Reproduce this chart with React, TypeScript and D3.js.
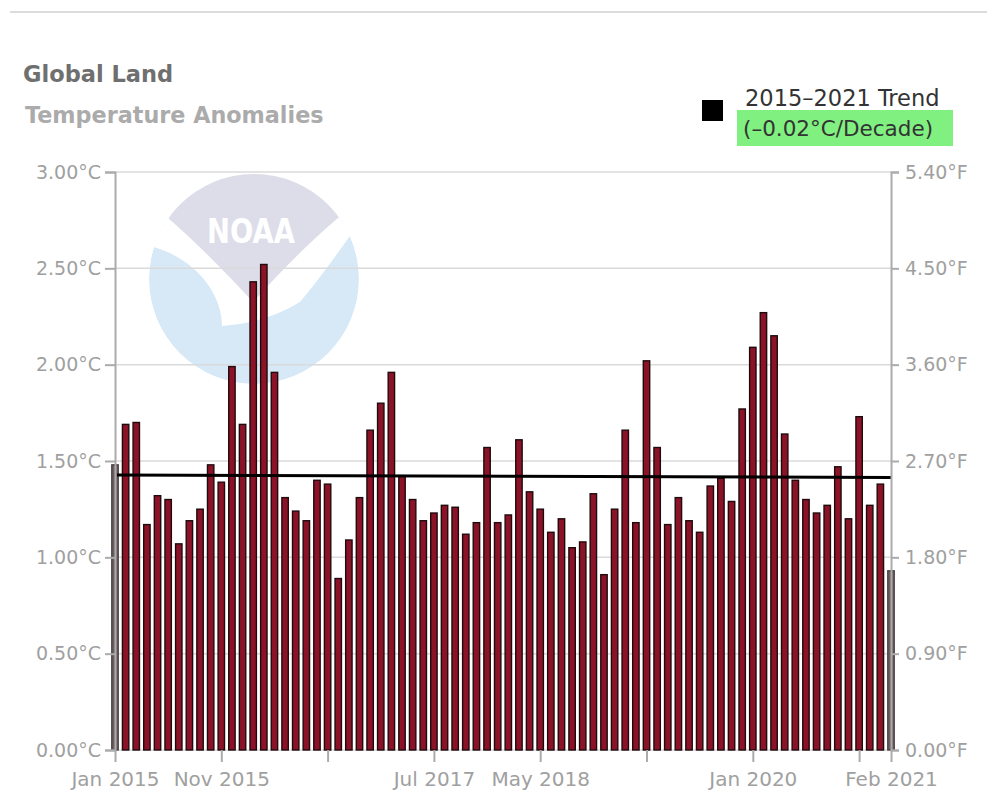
import React, { useEffect, useRef } from "react";
import * as d3 from "d3";

// monthly land anomalies, Jan 2015 .. Feb 2021 (°C)
const anomalies = [
  1.48, 1.69, 1.7, 1.17, 1.32, 1.3, 1.07, 1.19, 1.25, 1.48, 1.39, 1.99,
  1.69, 2.43, 2.52, 1.96, 1.31, 1.24, 1.19, 1.4, 1.38, 0.89, 1.09, 1.31,
  1.66, 1.8, 1.96, 1.42, 1.3, 1.19, 1.23, 1.27, 1.26, 1.12, 1.18, 1.57,
  1.18, 1.22, 1.61, 1.34, 1.25, 1.13, 1.2, 1.05, 1.08, 1.33, 0.91, 1.25,
  1.66, 1.18, 2.02, 1.57, 1.17, 1.31, 1.19, 1.13, 1.37, 1.41, 1.29, 1.77,
  2.09, 2.27, 2.15, 1.64, 1.4, 1.3, 1.23, 1.27, 1.47, 1.2, 1.73, 1.27,
  1.38, 0.93,
];

const months = d3.timeMonth.range(new Date(2015, 0, 1), new Date(2021, 2, 1));
const tickIndex = [0, 10, 20, 30, 40, 50, 60, 70, 73];
const tickLabels = ["Jan 2015", "Nov 2015", "", "Jul 2017", "May 2018", "", "Jan 2020", "", "Feb 2021"];
const celsiusTicks = [0, 0.5, 1, 1.5, 2, 2.5, 3];

const trendStart = 1.427;
const trendEnd = 1.415;

const font = "'DejaVu Sans', sans-serif";

const App = () => {
  const ref = useRef<SVGSVGElement>(null);

  useEffect(() => {
    const svg = d3.select(ref.current);
    svg.selectAll("*").remove();

    const x = d3.scaleLinear().domain([0, months.length - 1]).range([115, 891]);
    const y = d3.scaleLinear().domain([0, 3]).range([750, 172]);

    // top border
    svg.append("line")
      .attr("x1", 10).attr("x2", 987).attr("y1", 12).attr("y2", 12)
      .attr("stroke", "#dcdcdc").attr("stroke-width", 2);

    // titles
    svg.append("text")
      .attr("x", 23).attr("y", 82)
      .attr("font-family", font).attr("font-size", 22.5).attr("font-weight", "bold")
      .attr("fill", "#6f6f6f")
      .text("Global Land");
    svg.append("text")
      .attr("x", 25).attr("y", 123)
      .attr("font-family", font).attr("font-size", 22.3).attr("font-weight", "bold")
      .attr("fill", "#ababab")
      .text("Temperature Anomalies");

    // NOAA watermark
    const logo = svg.append("g");
    const cx = 254, cy = 279, r = 105;
    svg.append("defs").append("clipPath").attr("id", "logoclip")
      .append("circle").attr("cx", cx).attr("cy", cy).attr("r", r);
    const lg = logo.append("g").attr("clip-path", "url(#logoclip)");
    lg.append("circle").attr("cx", cx).attr("cy", cy).attr("r", r).attr("fill", "#d7e9f7");
    // gull (white)
    lg.append("path")
      .attr("d", "M140,170 L140,244 C190,252 222,290 222,326 Q266,323 300,302 Q322,276 354,230 L360,170 Z")
      .attr("fill", "#ffffff");
    // sky (grey)
    lg.append("path")
      .attr("d", "M140,170 L140,212 L168,218 Q205,250 253,302 Q300,250 338,218 L360,212 L360,170 Z")
      .attr("fill", "#dcdde9");
    logo.append("text")
      .attr("x", 251).attr("y", 243)
      .attr("text-anchor", "middle")
      .attr("font-family", font).attr("font-size", 33).attr("font-weight", "bold")
      .attr("textLength", 88).attr("lengthAdjust", "spacingAndGlyphs")
      .attr("fill", "#ffffff")
      .text("NOAA");

    // gridlines
    svg.append("g").selectAll("line").data(celsiusTicks).join("line")
      .attr("x1", x(0)).attr("x2", x(months.length - 1))
      .attr("y1", (d) => y(d)).attr("y2", (d) => y(d))
      .attr("stroke", "#dadada").attr("stroke-width", 1.5);

    // bars
    const last = anomalies.length - 1;
    const edge = (i: number) => i === 0 || i === last;
    svg.append("g").selectAll("rect").data(anomalies).join("rect")
      .attr("x", (d, i) => x(i) - 3.2)
      .attr("width", 6.4)
      .attr("y", (d) => y(d))
      .attr("height", (d) => y(0) - y(d))
      .attr("fill", (d, i) => (edge(i) ? "#6d6062" : "#8c1327"))
      .attr("stroke", (d, i) => (edge(i) ? "#4a4243" : "#1f0b0e"))
      .attr("stroke-width", 1.4);

    // trend line
    svg.append("line")
      .attr("x1", x(0) + 2).attr("x2", x(last))
      .attr("y1", y(trendStart)).attr("y2", y(trendEnd))
      .attr("stroke", "#000").attr("stroke-width", 3);

    // left axis (°C)
    const left = svg.append("g").attr("transform", `translate(${x(0)},0)`);
    left.call(
      d3.axisLeft(y).tickValues(celsiusTicks).tickSize(10).tickPadding(4)
        .tickFormat((d) => `${d3.format(".2f")(d as number)}°C`)
    );
    // right axis (°F)
    const right = svg.append("g").attr("transform", `translate(${x(last)},0)`);
    right.call(
      d3.axisRight(y).tickValues(celsiusTicks).tickSize(8).tickPadding(6)
        .tickFormat((d) => `${d3.format(".2f")((d as number) * 1.8)}°F`)
    );
    // bottom axis
    const bottom = svg.append("g").attr("transform", `translate(0,${y(0)})`);
    bottom.call(
      d3.axisBottom(x).tickValues(tickIndex).tickSize(12).tickPadding(10)
        .tickFormat((d, i) => tickLabels[i])
    );
    bottom.select(".domain").remove();

    [left, right, bottom].forEach((g) => {
      g.selectAll(".domain").attr("stroke", "#ababab").attr("stroke-width", 2);
      g.selectAll(".tick line").attr("stroke", "#ababab").attr("stroke-width", 2);
      g.selectAll(".tick text")
        .attr("fill", "#a0a0a0")
        .attr("font-family", font)
        .attr("font-size", 19);
    });
    bottom.selectAll(".tick text").attr("font-size", 20);

    // legend
    svg.append("rect")
      .attr("x", 702).attr("y", 100).attr("width", 21).attr("height", 21)
      .attr("fill", "#000");
    svg.append("rect")
      .attr("x", 737).attr("y", 110).attr("width", 216).attr("height", 36)
      .attr("fill", "#80f080");
    svg.append("text")
      .attr("x", 745).attr("y", 106)
      .attr("font-family", font).attr("font-size", 22.5)
      .attr("fill", "#333")
      .text("2015–2021 Trend");
    svg.append("text")
      .attr("x", 743).attr("y", 136)
      .attr("font-family", font).attr("font-size", 21.5)
      .attr("fill", "#333")
      .text("(–0.02°C/Decade)");
  }, []);

  return (
    <svg
      ref={ref}
      width={987}
      height={801}
      style={{ position: "absolute", left: 0, top: 0, background: "#fff" }}
    />
  );
};

export default App;
